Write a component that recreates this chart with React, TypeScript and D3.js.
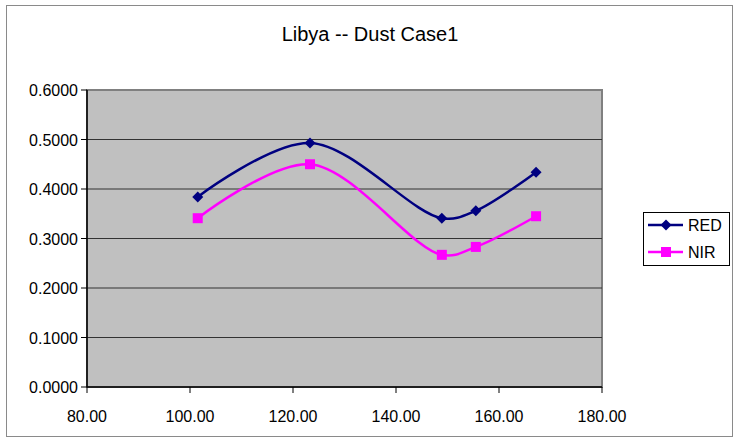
import React from "react";
import * as d3 from "d3";

const title = "Libya -- Dust Case1";
const xValues = [101.5, 123.3, 148.9, 155.5, 167.2];
const redValues = [0.384, 0.493, 0.341, 0.356, 0.434];
const nirValues = [0.341, 0.45, 0.267, 0.283, 0.345];
const xTicks = [80, 100, 120, 140, 160, 180];
const yTicks = [0, 0.1, 0.2, 0.3, 0.4, 0.5, 0.6];
const seriesNames = ["RED", "NIR"];
const seriesColors = ["#000080", "#FF00FF"];

const W = 734;
const H = 443;
const plot = { left: 87, right: 602, top: 90, bottom: 387 };
const font = "'Liberation Sans', Arial, sans-serif";

export default function App() {
  const x = d3.scaleLinear().domain([80, 180]).range([plot.left, plot.right]);
  const y = d3.scaleLinear().domain([0, 0.6]).range([plot.bottom, plot.top]);
  const line = d3
    .line<[number, number]>()
    .x((d) => x(d[0]))
    .y((d) => y(d[1]))
    .curve(d3.curveCatmullRom.alpha(0.5));

  const series = [redValues, nirValues].map((vals) =>
    xValues.map((xv, i) => [xv, vals[i]] as [number, number])
  );

  const diamond = (cx: number, cy: number, r: number) =>
    `M${cx},${cy - r}L${cx + r},${cy}L${cx},${cy + r}L${cx - r},${cy}Z`;

  return (
    <svg
      width={W}
      height={H}
      style={{ position: "absolute", left: 0, top: 0, background: "#fff" }}
      fontFamily={font}
    >
      <rect x={6.5} y={5.5} width={726} height={431} fill="#fff" stroke="#8a8a8a" strokeWidth={1} />
      <text x={370} y={41} textAnchor="middle" fontSize={20} fill="#000">
        {title}
      </text>
      <rect
        x={plot.left}
        y={plot.top}
        width={plot.right - plot.left}
        height={plot.bottom - plot.top}
        fill="#c0c0c0"
        stroke="#808080"
        strokeWidth={2}
      />
      {yTicks.map((t) => (
        <g key={"y" + t}>
          {t > 0 && t < 0.6 && (
            <line x1={plot.left} x2={plot.right} y1={y(t)} y2={y(t)} stroke="#333" strokeWidth={1} />
          )}
          <line x1={plot.left - 6} x2={plot.left} y1={y(t)} y2={y(t)} stroke="#000" strokeWidth={1} />
          <text x={plot.left - 9} y={y(t) + 6} textAnchor="end" fontSize={16} fill="#000">
            {t.toFixed(4)}
          </text>
        </g>
      ))}
      {xTicks.map((t) => (
        <g key={"x" + t}>
          <line x1={x(t)} x2={x(t)} y1={plot.bottom} y2={plot.bottom + 6} stroke="#000" strokeWidth={1} />
          <text x={x(t)} y={422} textAnchor="middle" fontSize={16} fill="#000">
            {t.toFixed(2)}
          </text>
        </g>
      ))}
      <line x1={plot.left} x2={plot.left} y1={plot.top} y2={plot.bottom} stroke="#000" strokeWidth={1.5} />
      <line x1={plot.left} x2={plot.right} y1={plot.bottom} y2={plot.bottom} stroke="#000" strokeWidth={1.5} />
      {series.map((pts, si) => (
        <g key={"s" + si}>
          <path d={line(pts) || ""} fill="none" stroke={seriesColors[si]} strokeWidth={2.5} />
          {pts.map((p, i) =>
            si === 0 ? (
              <path key={i} d={diamond(x(p[0]), y(p[1]), 5.5)} fill={seriesColors[si]} />
            ) : (
              <rect key={i} x={x(p[0]) - 5} y={y(p[1]) - 5} width={10} height={10} fill={seriesColors[si]} />
            )
          )}
        </g>
      ))}
      <rect x={643.5} y={212.5} width={86} height={53} fill="#fff" stroke="#000" strokeWidth={1} />
      {seriesNames.map((name, i) => {
        const cy = 225 + i * 27;
        return (
          <g key={name}>
            <line x1={648} x2={683} y1={cy} y2={cy} stroke={seriesColors[i]} strokeWidth={2.5} />
            {i === 0 ? (
              <path d={diamond(666, cy, 5.5)} fill={seriesColors[i]} />
            ) : (
              <rect x={661} y={cy - 5} width={10} height={10} fill={seriesColors[i]} />
            )}
            <text x={688} y={cy + 6} fontSize={16} fill="#000">
              {name}
            </text>
          </g>
        );
      })}
    </svg>
  );
}
